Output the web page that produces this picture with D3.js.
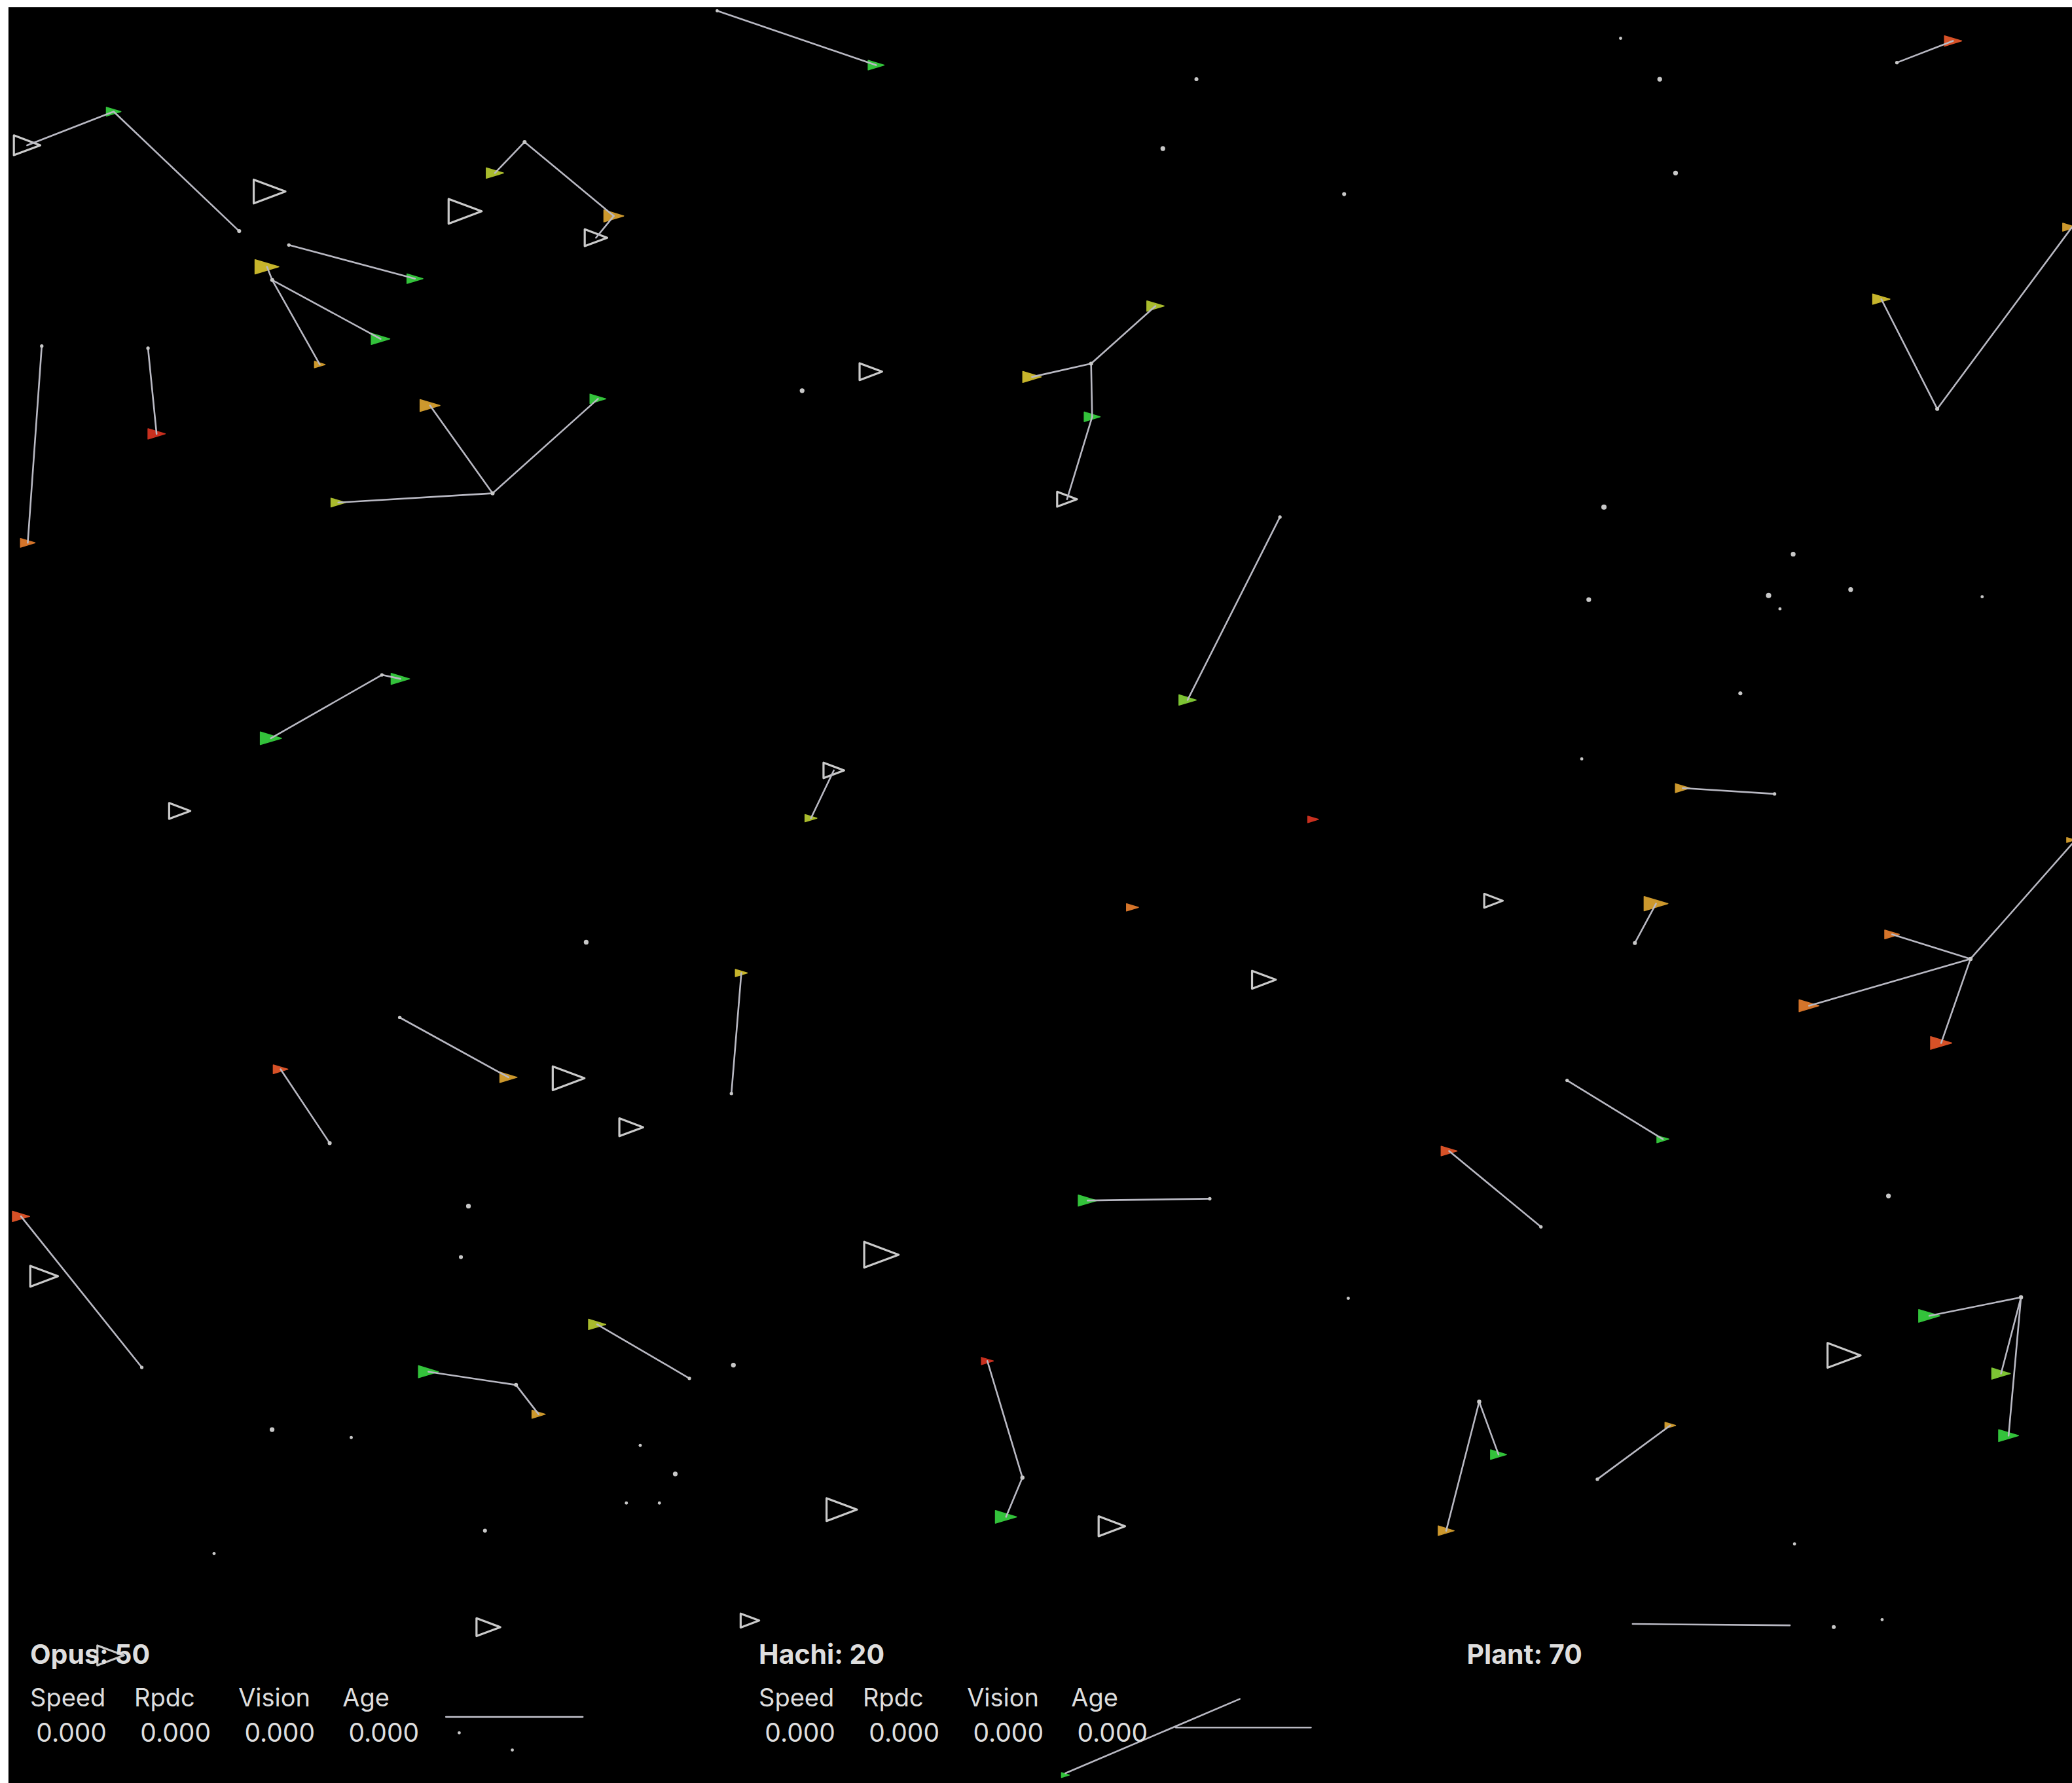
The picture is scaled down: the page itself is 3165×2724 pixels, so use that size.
<!DOCTYPE html>
<html>
<head>
<meta charset="utf-8">
<script src="https://cdn.jsdelivr.net/npm/d3@7"></script>
<style>
    html, body { margin: 0; padding: 0; background: #fff; }
    svg { display: block; }
</style>
</head>
<body>
<svg id="world"></svg>
<script>
// world units = the sim's own screen units (about 1568 x 1350)
var worldW = 1568, worldH = 1350;

// Opus agents: x, y, size, colour class
var opus = [
    [663, 49.3, 12, 0], [86, 84.5, 11, 0], [374.5, 131, 13, 2], [464.5, 163.5, 15, 4],
    [314, 211, 12, 0], [202, 202, 18, 3], [288, 256.6, 14, 0], [242, 276, 8, 4],
    [21, 411, 11, 5], [118.5, 328.5, 13, 7], [325.4, 307, 15, 4], [452.5, 302, 12, 0],
    [256, 380.5, 11, 2], [874.4, 231.7, 13, 2], [781, 285.4, 14, 3], [826.5, 315.6, 12, 0],
    [898.7, 530, 13, 1], [303, 514, 14, 0], [205, 559, 16, 0], [613.7, 619.5, 9, 2],
    [993.7, 620.4, 8, 7], [857, 687, 9, 5], [1253.2, 684.2, 18, 4], [1273.4, 596.7, 11, 4],
    [1431.8, 707.5, 11, 5], [1369, 761.5, 15, 5], [1469, 789.7, 16, 6], [1478, 31, 13, 6],
    [1566, 172, 10, 4], [1423.7, 226.5, 13, 3], [561, 736.7, 9, 3], [384.8, 815.7, 13, 4],
    [212.3, 809.6, 11, 6], [15.9, 921, 13, 6], [823, 909, 14, 0], [1096.6, 871.5, 12, 6],
    [1258.4, 862.5, 9, 0], [451.9, 1002.8, 13, 2], [324.2, 1038.6, 15, 0], [407.6, 1070.8, 10, 4],
    [747.2, 1030.5, 9, 7], [761.3, 1148.5, 16, 0], [1134, 1101.3, 12, 0], [1094.4, 1159, 12, 4],
    [1264, 1079.3, 8, 4], [1460, 996.3, 16, 0], [1514.3, 1040, 14, 1], [1520, 1087, 15, 0],
    [806.3, 1344, 6, 0], [1567, 636, 6, 4]
];
var opusColors = ["#33c23b", "#7dc334", "#a9bb2d", "#c7b52c", "#cc982d", "#d4742a", "#d65127", "#c8301f"];

// Hachi: x, y, width
var hachi = [
    [20.5, 110, 20], [204, 145, 24], [352, 160, 25], [451, 180, 17], [659, 281.4, 17],
    [807.5, 378, 15], [136, 614, 16], [631, 583.3, 15.6], [1130.2, 682, 14], [956.5, 741.8, 18],
    [430.3, 816.4, 24], [477.7, 853.5, 18], [33.4, 966.3, 21], [667, 950, 26], [1395.5, 1026.2, 25],
    [637, 1143, 23], [841.4, 1155.6, 20], [369.6, 1232, 18], [567.5, 1227, 14], [83.7, 1253.4, 20]
];

// Plants: x, y, radius
var plants = [
    [905.4, 60, 1.5], [880, 112.5, 1.8], [1017.2, 147, 1.5], [1226.4, 29, 1.2], [1256, 60, 1.8],
    [1268, 131, 1.8], [607, 295.8, 1.8], [1213.8, 384, 2], [1357, 419.6, 1.8], [1338.4, 450.9, 2],
    [1347, 461, 1.2], [1400.5, 446.4, 1.8], [1202.3, 454, 1.8], [1500, 451.8, 1.2], [1317, 525, 1.5],
    [1197, 574.6, 1.2], [443.6, 713.4, 1.8], [354.5, 913.2, 1.8], [348.8, 951.8, 1.5], [1429.1, 905.5, 1.8],
    [1020.3, 983, 1.2], [555, 1033.6, 1.8], [205.9, 1082.4, 1.8], [265.8, 1088.4, 1.2], [484.5, 1094.4, 1.2],
    [511, 1116, 1.8], [474, 1138, 1.2], [499, 1138, 1.2], [367, 1159, 1.5], [162, 1176.3, 1.2],
    [1358, 1169, 1.2], [1387.7, 1231.9, 1.5], [1424.3, 1226.3, 1.2], [347.5, 1312, 1.2], [387.7, 1325, 1.2],
    [181, 175, 1.5], [397, 107.5, 1.5], [218.6, 185.5, 1.3], [206, 212, 1.5], [31.6, 262, 1.3],
    [112, 263.6, 1.3], [372.8, 373.5, 1.5], [825.7, 275.3, 1.5], [968.6, 391.5, 1.3], [289, 511, 1.3],
    [1237.2, 714, 1.5], [1342.9, 601.1, 1.3], [1491.2, 726, 1.6], [1435.5, 47.4, 1.3], [1466, 309.6, 1.5],
    [553.5, 828, 1.3], [302.5, 770.4, 1.3], [249.5, 865.5, 1.5], [107.3, 1035.3, 1.3], [915.5, 907.6, 1.3],
    [1166.1, 928.9, 1.3], [1185.9, 818, 1.3], [521.7, 1043.6, 1.3], [390.5, 1048.6, 1.5], [773.7, 1118.8, 1.6],
    [1119.4, 1061.3, 1.6], [1208.8, 1120, 1.3], [1529.4, 982.3, 1.6], [542.7, 8.2, 1.2]
];

// sight lines: x1, y1, x2, y2
var links = [
    [542.7, 8.2, 663, 49.3], [20.5, 110, 86, 84.5], [86, 84.5, 181, 175],
    [397, 107.5, 374.5, 131], [397, 107.5, 464.5, 163.5], [464.5, 163.5, 451, 180],
    [218.6, 185.5, 314, 211], [206, 212, 288, 256.6], [206, 212, 242, 276], [206, 212, 202, 202],
    [31.6, 262, 21, 411], [112, 263.6, 118.5, 328.5],
    [372.8, 373.5, 325.4, 307], [372.8, 373.5, 452.5, 302], [372.8, 373.5, 256, 380.5],
    [825.7, 275.3, 874.4, 231.7], [825.7, 275.3, 781, 285.4], [825.7, 275.3, 826.5, 315.6], [826.5, 315.6, 807.5, 378],
    [968.6, 391.5, 898.7, 530], [289, 511, 303, 514], [289, 511, 205, 559], [631, 583.3, 613.7, 619.5],
    [1237.2, 714, 1253.2, 684.2], [1273.4, 596.7, 1342.9, 601.1],
    [1568, 639, 1491.2, 726], [1491.2, 726, 1431.8, 707.5], [1491.2, 726, 1369, 761.5], [1491.2, 726, 1469, 789.7],
    [1435.5, 47.4, 1478, 31], [1568, 172, 1466, 309.6], [1466, 309.6, 1423.7, 226.5],
    [561, 736.7, 553.5, 828], [302.5, 770.4, 384.8, 815.7], [212.3, 809.6, 249.5, 865.5],
    [15.9, 921, 107.3, 1035.3], [823, 909, 915.5, 907.6], [1096.6, 871.5, 1166.1, 928.9],
    [1185.9, 818, 1258.4, 862.5], [451.9, 1002.8, 521.7, 1043.6],
    [324.2, 1038.6, 390.5, 1048.6], [390.5, 1048.6, 407.6, 1070.8],
    [747.2, 1030.5, 773.7, 1118.8], [773.7, 1118.8, 761.3, 1148.5],
    [1119.4, 1061.3, 1134, 1101.3], [1119.4, 1061.3, 1094.4, 1159], [1208.8, 1120, 1264, 1079.3],
    [1529.4, 982.3, 1460, 996.3], [1529.4, 982.3, 1514.3, 1040], [1529.4, 982.3, 1520, 1087],
    [1235.5, 1229.6, 1354.5, 1230.6], [337.5, 1300, 441, 1300],
    [938.2, 1286.4, 806.3, 1342.6], [889.8, 1308, 992, 1308]
];

// stats panel
var groupNames = ["Opus", "Hachi", "Plant"];
var groupCounts = [50, 20, 70];
var statNames = ["Speed", "Rpdc", "Vision", "Age"];
var opusStats = [0, 0, 0, 0];
var hachiStats = [0, 0, 0, 0];

(function () {
    var W = 3165, H = 2724;
    var x = d3.scaleLinear().domain([0, worldW]).range([0, W]);
    var y = d3.scaleLinear().domain([0, worldH]).range([0, H]);
    var k = W / worldW;
    var fmt = d3.format(".3f");

    var svg = d3.select("#world")
        .attr("width", W)
        .attr("height", H);

    svg.append("rect")
        .attr("x", x(6.4)).attr("y", y(5.5))
        .attr("width", W - x(6.4)).attr("height", H - y(5.5))
        .attr("fill", "#000");

    // agents: little filled wedges pointing right
    function wedge(d) {
        var w = d[2], h = w * 0.6;
        return "M" + x(d[0] - w / 2) + "," + y(d[1] - h / 2) +
            "L" + x(d[0] + w / 2) + "," + y(d[1]) +
            "L" + x(d[0] - w / 2) + "," + y(d[1] + h / 2) + "Z";
    }
    svg.append("g").selectAll("path")
        .data(opus)
        .enter()
        .append("path")
        .attr("d", wedge)
        .attr("fill", (d) => opusColors[d[3]])
        .attr("stroke", (d) => opusColors[d[3]])
        .attr("stroke-width", 1.5)
        .attr("stroke-linejoin", "round");

    // hachi: open outlined triangles
    svg.append("g").selectAll("path")
        .data(hachi)
        .enter()
        .append("path")
        .attr("d", function (d) {
            var w = d[2], h = w * 0.75;
            return "M" + x(d[0] - w / 2) + "," + y(d[1] - h / 2) +
                "L" + x(d[0] + w / 2) + "," + y(d[1]) +
                "L" + x(d[0] - w / 2) + "," + y(d[1] + h / 2) + "Z";
        })
        .attr("fill", "none")
        .attr("stroke", "#cacaca")
        .attr("stroke-width", 3.2)
        .attr("stroke-linejoin", "round");

    svg.append("g").selectAll("line")
        .data(links)
        .enter()
        .append("line")
        .attr("x1", (d) => x(d[0])).attr("y1", (d) => y(d[1]))
        .attr("x2", (d) => x(d[2])).attr("y2", (d) => y(d[3]))
        .attr("stroke", "#b9b9c3")
        .attr("stroke-width", 2.6)
        .attr("stroke-linecap", "round");

    svg.append("g").selectAll("circle")
        .data(plants)
        .enter()
        .append("circle")
        .attr("cx", (d) => x(d[0]))
        .attr("cy", (d) => y(d[1]))
        .attr("r", (d) => d[2] * k)
        .attr("fill", "#c8c8c8");

    // bottom panel
    var panel = svg.append("g")
        .attr("font-family", "Inter, 'Noto Sans', sans-serif")
        .attr("fill", "#dedede");
    var groupX = [22.8, 574.2, 1110];
    var colStep = 78.8;

    panel.selectAll("text.title")
        .data(groupNames)
        .enter()
        .append("text")
        .attr("class", "title")
        .attr("x", (d, i) => x(groupX[i]))
        .attr("y", y(1260))
        .attr("font-size", 41)
        .attr("font-weight", 700)
        .text((d, i) => d + ": " + groupCounts[i]);

    [opusStats, hachiStats].forEach(function (vals, g) {
        panel.selectAll("text.head" + g)
            .data(statNames)
            .enter()
            .append("text")
            .attr("x", (d, i) => x(groupX[g] + i * colStep))
            .attr("y", y(1292))
            .attr("font-size", 38)
            .text((d) => d);
        panel.selectAll("text.val" + g)
            .data(vals)
            .enter()
            .append("text")
            .attr("x", (d, i) => x(groupX[g] + 4.6 + i * colStep))
            .attr("y", y(1319))
            .attr("font-size", 39)
            .text((d) => fmt(d));
    });
})();
</script>
</body>
</html>
